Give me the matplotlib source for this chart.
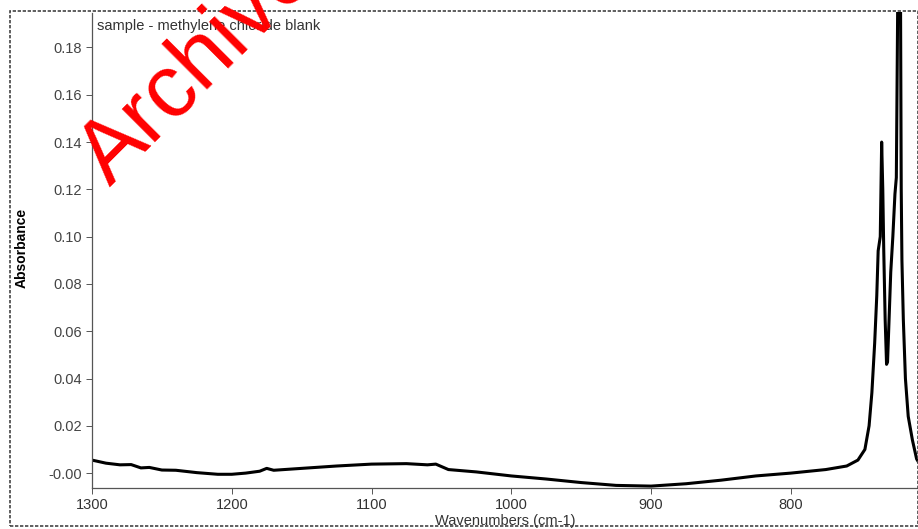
import matplotlib
matplotlib.use("Agg")
import matplotlib.pyplot as plt
from matplotlib.patches import Rectangle

wavenumber = [1300, 1290, 1280, 1272, 1265, 1259, 1250, 1240, 1225, 1210, 1200, 1190,
              1180, 1175, 1170, 1150, 1125, 1100, 1075, 1060, 1054, 1045, 1025, 1000,
              975, 950, 925, 900, 875, 850, 825, 800, 775, 760, 752, 747, 744, 742,
              740, 738.5, 737.5, 736, 735, 734.2, 733.5, 732.5, 731.5, 730.8, 730,
              728.5, 727, 725.5, 724.5, 723.5, 722.5, 721.5, 721, 720.5, 719.5, 718,
              716, 713, 710, 709]
absorbance = [0.0055, 0.0042, 0.0035, 0.0036, 0.0022, 0.0024, 0.0013, 0.0012, 0.0002,
              -0.0005, -0.0005, 0.0000, 0.0008, 0.0020, 0.0012, 0.0020, 0.0030, 0.0038,
              0.0040, 0.0035, 0.0038, 0.0015, 0.0005, -0.0012, -0.0025, -0.0040,
              -0.0052, -0.0055, -0.0045, -0.0030, -0.0012, 0.0000, 0.0015, 0.0030,
              0.0055, 0.0100, 0.0200, 0.034, 0.055, 0.075, 0.094, 0.100, 0.140, 0.120,
              0.094, 0.065, 0.046, 0.047, 0.060, 0.085, 0.100, 0.118, 0.125, 0.200,
              0.300, 0.200, 0.120, 0.090, 0.065, 0.040, 0.024, 0.014, 0.006, 0.005]

xticks = [1300, 1200, 1100, 1000, 900, 800]
yticks = [0.00, 0.02, 0.04, 0.06, 0.08, 0.10, 0.12, 0.14, 0.16, 0.18]
ytick_labels = ["-0.00", "0.02", "0.04", "0.06", "0.08", "0.10", "0.12", "0.14", "0.16", "0.18"]

W, H = 918, 529
fig = plt.figure(figsize=(W / 100, H / 100), dpi=100)
plt.rcParams['font.family'] = ['Liberation Sans', 'DejaVu Sans']

ax = fig.add_axes([92 / W, 1 - 488 / H, (W - 92) / W, (488 - 12) / H])
ax.plot(wavenumber, absorbance, color='black', lw=2.2, solid_joinstyle='round')
ax.set_xlim(1300, 709)
ax.set_ylim(-0.0063, 0.195)
ax.set_xticks(xticks)
ax.set_xticklabels([str(t) for t in xticks], fontsize=10.5, color='#333333')
ax.set_yticks(yticks)
ax.set_yticklabels(ytick_labels, fontsize=10.5, color='#444444')
ax.tick_params(axis='both', direction='out', length=4, width=0.7, color='#555555', pad=3)
for s in ['top', 'right']:
    ax.spines[s].set_visible(False)
for s in ['left', 'bottom']:
    ax.spines[s].set_color('#555555')
    ax.spines[s].set_linewidth(0.9)
    ax.spines[s].set_linestyle((0, (2, 1)))

ax.text(0.006, 0.985, "sample - methylene chloride blank", transform=ax.transAxes,
        fontsize=10.5, color='#333333', ha='left', va='top')

fig.text(505 / W, 1 - 521 / H, "Wavenumbers (cm-1)", fontsize=10.5, color='#333333',
         ha='center', va='center')
fig.text(22 / W, 1 - 248 / H, "Absorbance", fontsize=10, fontweight='bold', color='black',
         rotation=90, ha='center', va='center')

# outer frame
fig.add_artist(Rectangle((10 / W, 1 - 526 / H), (W - 10) / W, (526 - 11) / H,
                         transform=fig.transFigure, fill=False, edgecolor='#444444',
                         lw=1.2, linestyle=(0, (2, 1))))

# watermark
fig.text(110 / W, 1 - 187 / H, "Archived", fontsize=64, color='#ff0000',
         rotation=45, rotation_mode='anchor', ha='left', va='baseline', zorder=10)

fig.savefig("out.png", dpi=100)
